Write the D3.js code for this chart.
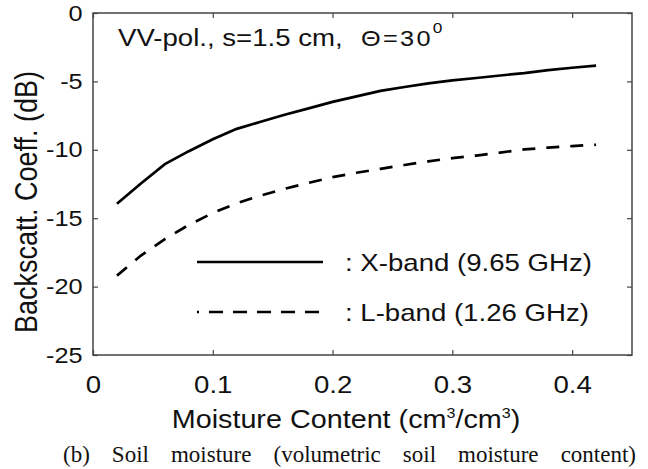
<!DOCTYPE html>
<html>
<head>
<meta charset="utf-8">
<script src="https://cdn.jsdelivr.net/npm/d3@7"></script>
<style>
body { margin: 0; background: #fff; }
text { font-family: "Liberation Sans", Arial, sans-serif; fill: #111; }
</style>
</head>
<body>
<svg id="chart" width="648" height="469"></svg>
<script>
// data
var moisture = [0.02, 0.04, 0.06, 0.08, 0.10, 0.12, 0.14, 0.16, 0.18, 0.20, 0.22,
                0.24, 0.26, 0.28, 0.30, 0.32, 0.34, 0.36, 0.38, 0.40, 0.42];
var xBand = [-13.95, -12.46, -11.05, -10.10, -9.23, -8.47, -7.95, -7.44, -6.97, -6.50, -6.09,
             -5.69, -5.41, -5.15, -4.93, -4.75, -4.57, -4.39, -4.17, -4.00, -3.85];
var lBand = [-19.2, -17.73, -16.53, -15.49, -14.62, -13.90, -13.35, -12.85, -12.42, -12.00, -11.68,
             -11.39, -11.11, -10.84, -10.61, -10.42, -10.20, -9.97, -9.84, -9.73, -9.63];
var xTicks = [0, 0.1, 0.2, 0.3, 0.4];
var yTicks = [0, -5, -10, -15, -20, -25];
var legendLabels = [': X-band (9.65 GHz)', ': L-band (1.26 GHz)'];
var captionText = '(b) Soil moisture (volumetric soil moisture content)';

var plotLeft = 93, plotRight = 632, plotTop = 13, plotBottom = 355;
var stretch = 1.15;   // the figure text is a little wide

var svg = d3.select('#chart');

var x = d3.scaleLinear().domain([0, 0.45]).range([plotLeft, plotRight]);
var y = d3.scaleLinear().domain([-25, 0]).range([plotBottom, plotTop]);

function plain (d) { return String(d); }   // keep the ascii hyphen

//=======================
// frame + ticks
//=======================
svg.append('rect')
	.attr('x', plotLeft)
	.attr('y', plotTop)
	.attr('width', plotRight - plotLeft)
	.attr('height', plotBottom - plotTop)
	.attr('fill', 'none')
	.attr('stroke', '#444')
	.attr('stroke-width', 1.5);

var gx = svg.append('g')
	.attr('transform', 'translate(0,' + plotBottom + ')')
	.call(d3.axisBottom(x).tickValues(xTicks).tickSizeInner(-5).tickSizeOuter(0)
		.tickPadding(21).tickFormat(plain));
var gy = svg.append('g')
	.attr('transform', 'translate(' + plotLeft + ',0)')
	.call(d3.axisLeft(y).tickValues(yTicks).tickSizeInner(-5).tickSizeOuter(0)
		.tickPadding(9).tickFormat(plain));
svg.append('g')
	.attr('transform', 'translate(0,' + plotTop + ')')
	.call(d3.axisTop(x).tickValues(xTicks).tickSizeInner(-5).tickSizeOuter(0).tickFormat(''));
svg.append('g')
	.attr('transform', 'translate(' + plotRight + ',0)')
	.call(d3.axisRight(y).tickValues(yTicks).tickSizeInner(-5).tickSizeOuter(0).tickFormat(''));

svg.selectAll('.domain').remove();
svg.selectAll('.tick line').attr('stroke', '#444').attr('stroke-width', 1.2);
svg.selectAll('.tick text')
	.attr('font-family', null)
	.attr('fill', '#111')
	.attr('transform', 'scale(' + stretch + ',1)');
gy.selectAll('.tick text').style('font-size', '22px');
gx.selectAll('.tick text').style('font-size', '24px');

//=======================
// curves
//=======================
var line = d3.line()
	.x(function (d, i) { return x(moisture[i]); })
	.y(function (d) { return y(d); });

svg.append('path')
	.attr('d', line(xBand))
	.attr('fill', 'none')
	.attr('stroke', '#000')
	.attr('stroke-width', 2.7);

svg.append('path')
	.attr('d', line(lBand))
	.attr('fill', 'none')
	.attr('stroke', '#000')
	.attr('stroke-width', 2.7)
	.attr('stroke-dasharray', '13,11');

//=======================
// legend
//=======================
var legendY = [262, 312];
var dashes = [null, '14,10'];
legendLabels.forEach(function (lbl, i) {
	svg.append('line')
		.attr('x1', 197).attr('x2', 323)
		.attr('y1', legendY[i]).attr('y2', legendY[i])
		.attr('stroke', '#000')
		.attr('stroke-width', 2.7)
		.attr('stroke-dasharray', dashes[i])
		.attr('stroke-dashoffset', dashes[i] ? 12 : null);
	svg.append('text')
		.attr('transform', 'translate(345,' + (legendY[i] + 9) + ') scale(' + stretch + ',1)')
		.style('font-size', '24px')
		.text(lbl);
});

//=======================
// annotation
//=======================
svg.append('text')
	.attr('transform', 'translate(118,46) scale(' + stretch + ',1)')
	.style('font-size', '24px')
	.text('VV-pol., s=1.5 cm,');
var theta = svg.append('text')
	.attr('transform', 'translate(361,46) scale(' + stretch + ',1)')
	.style('font-size', '22px')
	.style('font-weight', 300)
	.attr('fill', '#333')
	.attr('letter-spacing', 2);
theta.append('tspan').text('\u0398=30');
theta.append('tspan').attr('dy', -13).style('font-size', '15px').text('0');

//=======================
// axis labels
//=======================
svg.append('text')
	.attr('transform', 'translate(37,202) rotate(-90) scale(1,1.13)')
	.attr('text-anchor', 'middle')
	.style('font-size', '27px')
	.text('Backscatt. Coeff. (dB)');

var xl = svg.append('text')
	.attr('transform', 'translate(346,428) scale(' + stretch + ',1)')
	.attr('text-anchor', 'middle')
	.style('font-size', '25px');
xl.append('tspan').text('Moisture Content (cm');
xl.append('tspan').attr('dy', -10).style('font-size', '14px').text('3');
xl.append('tspan').attr('dy', 10).text('/cm');
xl.append('tspan').attr('dy', -10).style('font-size', '14px').text('3');
xl.append('tspan').attr('dy', 10).text(')');

//=======================
// caption, justified word by word
//=======================
var capLeft = 63, capRight = 636, capSize = 23;
var words = captionText.split(' ');
var widths = words.map(function (w) {
	var t = svg.append('text')
		.style('font-family', '"Liberation Serif", "Times New Roman", serif')
		.style('font-size', capSize + 'px')
		.text(w);
	var wd = t.node().getComputedTextLength();
	t.remove();
	return wd;
});
var gap = (capRight - capLeft - d3.sum(widths)) / (words.length - 1);
var cx = capLeft;
words.forEach(function (w, i) {
	svg.append('text')
		.attr('x', cx)
		.attr('y', 462)
		.style('font-family', '"Liberation Serif", "Times New Roman", serif')
		.style('font-size', capSize + 'px')
		.text(w);
	cx += widths[i] + gap;
});
</script>
</body>
</html>
